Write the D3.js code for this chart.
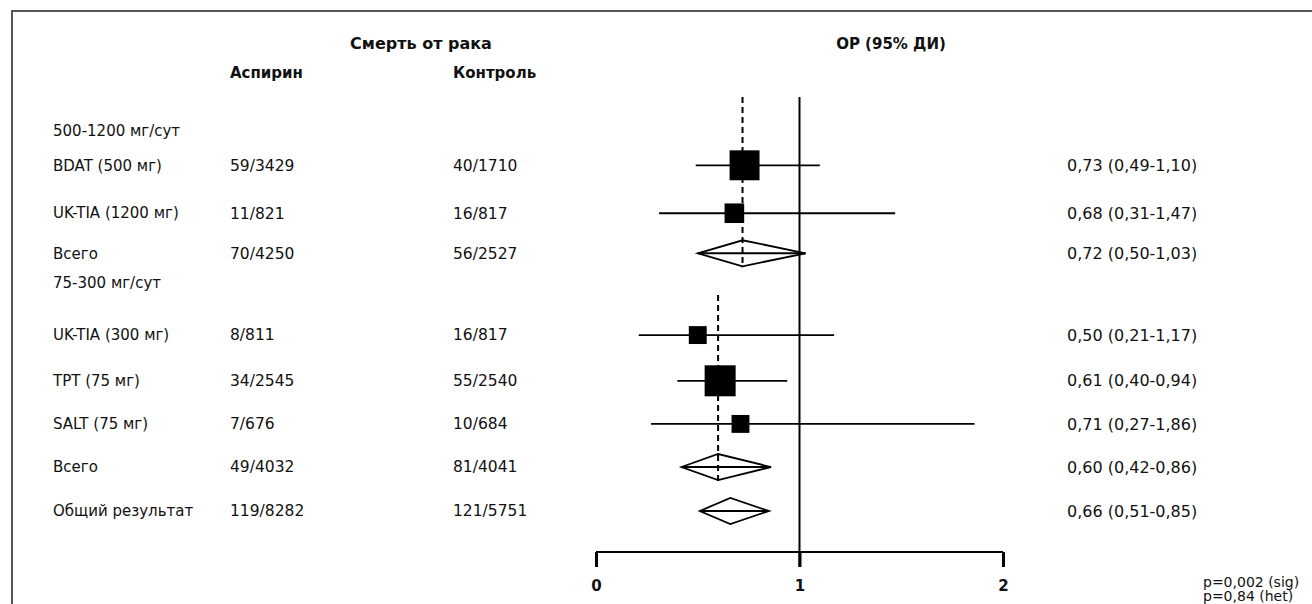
<!DOCTYPE html>
<html>
<head>
<meta charset="utf-8">
<style>
  body { margin: 0; background: white; }
  svg text { font-family: "DejaVu Sans", sans-serif; fill: #111; }
  .hdr { font-weight: bold; font-size: 15px; }
  .row { font-size: 15px; }
</style>
<script src="https://cdn.jsdelivr.net/npm/d3@7"></script>
</head>
<body>
<svg id="chart"></svg>
<script>
// data
let labels = ["500-1200 мг/сут", "BDAT (500 мг)", "UK-TIA (1200 мг)", "Всего",
              "75-300 мг/сут", "UK-TIA (300 мг)", "TPT (75 мг)", "SALT (75 мг)", "Всего", "Общий результат"];
let kind = ["group", "study", "study", "total", "group", "study", "study", "study", "total", "total"];
let aspirin = ["", "59/3429", "11/821", "70/4250", "", "8/811", "34/2545", "7/676", "49/4032", "119/8282"];
let control = ["", "40/1710", "16/817", "56/2527", "", "16/817", "55/2540", "10/684", "81/4041", "121/5751"];
let rr   = [null, 0.73, 0.68, 0.72, null, 0.50, 0.61, 0.71, 0.60, 0.66];
let lo   = [null, 0.49, 0.31, 0.50, null, 0.21, 0.40, 0.27, 0.42, 0.51];
let hi   = [null, 1.10, 1.47, 1.03, null, 1.17, 0.94, 1.86, 0.86, 0.85];
let weight = [0, 28, 12, 0, 0, 10, 30, 10, 0, 0];
let rrText = ["", "0,73 (0,49-1,10)", "0,68 (0,31-1,47)", "0,72 (0,50-1,03)", "",
              "0,50 (0,21-1,17)", "0,61 (0,40-0,94)", "0,71 (0,27-1,86)", "0,60 (0,42-0,86)", "0,66 (0,51-0,85)"];
let xTicks = [0, 1, 2];
let pValues = ["p=0,002 (sig)", "p=0,84 (het)"];

let width = 1312, height = 604;
let svg = d3.select("#chart").attr("width", width).attr("height", height);

// row slots (irregular spacing in the original)
let slots = [0, 0.78, 1.87, 2.78, 3.44, 4.64, 5.68, 6.66, 7.64, 8.64];
let y = d3.scaleLinear().domain([0, 8.64]).range([131, 511]);
let x = d3.scaleLinear().domain([0, 2]).range([596, 1003]);
let size = d3.scaleSqrt().domain([0, 30]).range([0, 31]);

// frame
svg.append("path")
  .attr("d", "M12,604V11H1312")
  .attr("fill", "none").attr("stroke", "#555").attr("stroke-width", 2);

// headers
svg.append("text").attr("class", "hdr").attr("x", 421).attr("y", 49)
  .attr("text-anchor", "middle").style("font-size", "16px").text("Смерть от рака");
svg.append("text").attr("class", "hdr").attr("x", 230).attr("y", 78)
  .text("Аспирин");
svg.append("text").attr("class", "hdr").attr("x", 453).attr("y", 78)
  .text("Контроль");
svg.append("text").attr("class", "hdr").attr("x", 891).attr("y", 49)
  .attr("text-anchor", "middle").text("ОР (95% ДИ)");

let idx = d3.range(labels.length);

// text columns
let cols = [[53, labels, 15], [230, aspirin, 15.5], [453, control, 15.5], [1067, rrText, 16]];
cols.forEach(([cx, arr, fs]) => {
  svg.append("g").selectAll("text").data(idx).join("text")
    .attr("class", "row")
    .style("font-size", fs + "px")
    .attr("x", cx).attr("y", i => y(slots[i]))
    .attr("dy", "0.35em")
    .text(i => arr[i]);
});

// pooled dashed lines
let groups = [[1, 3], [5, 8]];
groups.forEach(([a, b]) => {
  svg.append("line")
    .attr("x1", x(rr[b])).attr("x2", x(rr[b]))
    .attr("y1", a === 1 ? 97 : y(slots[a]) - 40)
    .attr("y2", y(slots[b]) + 14)
    .attr("stroke", "#000").attr("stroke-width", 2)
    .attr("stroke-dasharray", "6,4");
});

// null line at 1
svg.append("line")
  .attr("x1", x(1)).attr("x2", x(1)).attr("y1", 97).attr("y2", 567)
  .attr("stroke", "#000").attr("stroke-width", 2);

// confidence intervals
let ciRows = idx.filter(i => rr[i] !== null);
svg.append("g").selectAll("line").data(ciRows).join("line")
  .attr("x1", i => x(lo[i])).attr("x2", i => x(hi[i]))
  .attr("y1", i => y(slots[i])).attr("y2", i => y(slots[i]))
  .attr("stroke", "#000").attr("stroke-width", 1.8);

// study squares
let studyRows = idx.filter(i => kind[i] === "study");
svg.append("g").selectAll("rect").data(studyRows).join("rect")
  .attr("x", i => x(rr[i]) - size(weight[i]) / 2)
  .attr("y", i => y(slots[i]) - size(weight[i]) / 2)
  .attr("width", i => size(weight[i]))
  .attr("height", i => size(weight[i]))
  .attr("fill", "#000");

// pooled diamonds
let totalRows = idx.filter(i => kind[i] === "total");
svg.append("g").selectAll("path").data(totalRows).join("path")
  .attr("d", i => {
    let cy = y(slots[i]);
    return `M${x(lo[i])},${cy}L${x(rr[i])},${cy - 13}L${x(hi[i])},${cy}L${x(rr[i])},${cy + 13}Z`;
  })
  .attr("fill", "none").attr("stroke", "#000").attr("stroke-width", 1.8);

// axis
let axisY = 552;
let ax = svg.append("g").attr("transform", `translate(0,${axisY})`)
  .call(d3.axisBottom(x).tickValues(xTicks).tickSize(15).tickFormat(d3.format("d")));
ax.select(".domain").attr("d", `M${x(0)},0H${x(2)}`).attr("stroke-width", 2);
ax.selectAll(".tick line").attr("stroke-width", 3);
ax.selectAll(".tick text")
  .attr("y", 28).attr("font-size", 15).attr("font-weight", "bold")
  .attr("font-family", "DejaVu Sans").attr("fill", "#111");

// p values
svg.append("g").selectAll("text").data(pValues).join("text")
  .attr("class", "row")
  .style("font-size", "14px")
  .attr("x", 1203).attr("y", (d, i) => 587 + i * 14)
  .text(d => d);
</script>
</body>
</html>
